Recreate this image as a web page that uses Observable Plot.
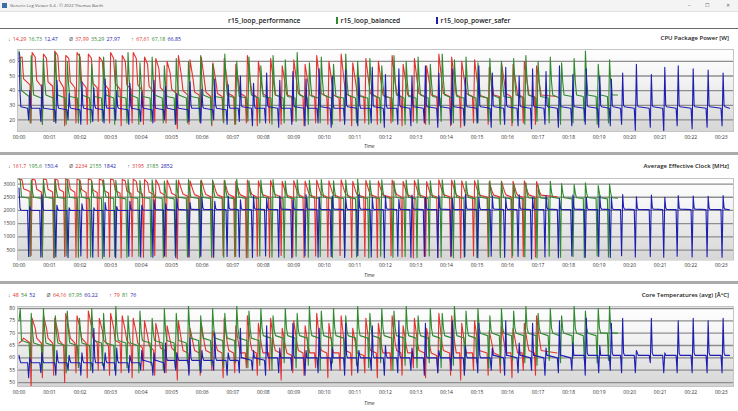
<!DOCTYPE html>
<html><head><meta charset="utf-8">
<script src="https://cdn.jsdelivr.net/npm/d3@7"></script>
<script src="https://cdn.jsdelivr.net/npm/@observablehq/plot@0.6"></script>
<style>
html,body{margin:0;padding:0;background:#fff}
body{width:738px;height:411px;overflow:hidden;position:relative;font-family:"Open Sans",sans-serif;color:#222}
.a{position:absolute;white-space:nowrap}
.st{font-size:5.3px;line-height:6px}
.st span{margin-right:2.2px}
.st .g{margin-left:9px}
.ttl{font-size:6px;font-weight:600;line-height:7px;right:9px}
.tm{font-size:5px;font-style:italic;line-height:6px;left:364px;color:#333}
.hr{position:absolute;left:0;width:738px}
</style></head><body>
<div id="root"></div>
<script>
// ---------- data (minutes, per-cycle values) ----------
const seriesNames = ["r15_loop_performance","r15_loop_balanced","r15_loop_power_safer"];
const colors = ["#e2322f","#2f8a2f","#1e1eb0"];
const xTicks = d3.range(0, 24);
const powerTicks = [20,30,40,50,60];
const clockTicks = [500,1000,1500,2000,2500,3000];
const tempTicks = [50,55,60,65,70,75,80];

// cycle start times (run start spikes), minutes
const perfT = [0.00,0.43,0.80,1.17,1.53,1.90,2.27,2.63,3.00,3.38,3.74,4.11,4.48,4.85,5.22,5.60,5.97,6.35,6.72,7.10,7.48,7.84,8.24,8.62,9.00,9.37,9.75,10.15,10.55,10.93,11.36,11.77,12.22,12.58,12.95,13.35,13.75,14.17,14.50,14.92,15.40,15.80,16.18,16.55,16.95];
const perfEnd = 17.62;
const balT = [0.00,0.40,0.80,1.19,1.58,1.98,2.38,2.77,3.17,3.57,3.96,4.36,4.76,5.15,5.55,5.95,6.34,6.74,7.13,7.53,7.92,8.32,8.72,9.11,9.51,9.90,10.30,10.70,11.09,11.49,11.88,12.28,12.68,13.07,13.47,13.86,14.26,14.64,15.03,15.42,15.80,16.20,16.60,17.00,17.40,17.77,18.18,18.55,18.97,19.34];
const balEnd = 19.60;
const safT = [0.00,0.35,0.75,1.24,1.64,2.06,2.45,2.82,3.20,3.63,4.02,4.42,4.80,5.17,5.60,5.99,6.41,6.85,7.25,7.68,8.11,8.54,8.97,9.40,9.83,10.26,10.70,11.13,11.57,12.00,12.44,12.87,13.31,13.75,14.19,14.62,15.06,15.50,15.94,16.38,16.82,17.26,17.70,18.14,18.58,19.02,19.40,19.77,20.22,20.71,21.15,21.59,22.08,22.57,23.06];
const safEnd = 23.27;

// per cycle: peak, hold, plateau start, plateau end, dip before next run
const perfPow = [
62,63,48,44,18, 66,63,47,43,17, 65,62,46,43,19, 67,64,47,42,16, 64,62,46,42,18,
66,63,46,42,17, 65,62,45,42,19, 63,60,45,41,18, 66,62,45,41,16, 64,60,44,41,18,
66,62,44,40,17, 63,58,43,39,19, 62,55,42,39,18, 60,52,41,38,14, 64,50,40,37,17,
61,48,39,37,18, 63,47,39,36,16, 59,46,38,36,19, 62,46,38,36,17, 58,45,38,36,18,
64,46,38,36,16, 60,45,38,35,18, 62,45,37,36,17, 57,44,37,36,19, 61,45,38,36,16,
58,44,37,36,18, 64,46,38,36,17, 60,45,37,35,19, 65,46,38,36,16, 59,45,37,36,18,
62,45,38,36,17, 60,44,37,35,18, 64,46,38,36,16, 58,44,37,36,19, 62,45,38,36,17,
57,44,37,36,18, 65,46,38,36,16, 63,45,37,36,15, 60,45,38,36,18, 61,44,37,35,17,
56,44,37,36,19, 59,45,38,36,16, 58,44,37,36,18, 60,45,37,36,17, 57,44,37,36,36];
const perfClk = [
3190,3160,2820,2720,300, 3180,3150,2800,2700,250, 3190,3160,2800,2700,220, 3180,3150,2790,2700,260, 3195,3150,2800,2690,230,
3180,3140,2790,2680,200, 3190,3150,2780,2680,250, 3180,3140,2760,2660,240, 3190,3150,2760,2650,210, 3170,3120,2740,2640,260,
3180,3100,2720,2620,230, 3170,3050,2700,2600,300, 3160,2950,2680,2580,250, 3150,2850,2650,2560,162, 3150,2800,2620,2540,240,
3120,2750,2600,2530,280, 3150,2750,2600,2520,220, 3100,2720,2590,2520,300, 3140,2740,2600,2520,250, 3110,2720,2590,2510,210,
3150,2750,2600,2520,270, 3120,2720,2590,2520,230, 3140,2740,2600,2520,300, 3100,2700,2580,2510,250, 3130,2730,2590,2520,220,
3110,2720,2580,2520,280, 3150,2750,2600,2520,240, 3120,2720,2590,2510,300, 3160,2760,2600,2520,230, 3100,2710,2580,2520,260,
3140,2740,2590,2520,220, 3110,2720,2580,2510,290, 3150,2750,2600,2520,240, 3100,2700,2580,2520,210, 3140,2740,2590,2520,270,
3090,2700,2580,2510,230, 3160,2760,2600,2520,250, 3150,2740,2590,2520,200, 3120,2720,2590,2520,280, 3130,2730,2580,2510,240,
3080,2700,2580,2520,300, 3110,2720,2590,2520,220, 3100,2700,2580,2510,260, 3120,2720,2590,2520,240, 3090,2700,2580,2520,2520];
const perfTmp = [
66,67,68,66,48, 76,72,68,66,52, 77,72,68,66,53, 76,71,67,65,50, 78,72,68,66,54,
77,72,68,66,52, 79,73,68,66,55, 76,71,67,65,53, 78,72,67,66,54, 77,71,67,65,52,
76,70,66,64,55, 75,69,65,63,53, 74,68,64,63,54, 73,67,64,62,51, 75,67,63,62,54,
72,66,63,62,53, 74,66,63,62,55, 71,65,63,62,52, 76,66,63,62,54, 73,65,62,62,56,
77,66,63,62,53, 74,65,62,62,55, 76,66,63,62,51, 72,65,62,61,54, 75,66,63,62,53,
73,65,62,62,56, 78,66,63,62,52, 74,65,62,62,55, 77,66,63,62,53, 72,65,62,61,54,
76,66,63,62,52, 74,65,62,62,55, 77,66,63,62,53, 73,65,62,62,56, 76,66,63,62,52,
72,65,62,61,54, 78,66,63,62,53, 77,66,62,62,51, 74,65,62,62,55, 75,66,63,62,53,
71,65,62,61,54, 73,65,62,62,52, 72,65,62,62,55, 74,66,63,62,53, 77,67,63,62,62];

const balPow = [
67,62,40,36,18, 64,48,37,35,17, 62,46,37,35,19, 66,47,37,35,17, 60,45,36,35,18,
65,46,37,35,18, 58,45,36,35,19, 63,46,37,35,17, 61,45,36,35,18, 66,47,37,35,17,
59,45,36,35,19, 63,46,37,35,18, 57,44,36,35,17, 62,46,37,35,18, 60,45,36,35,19,
64,46,37,35,17, 58,45,36,35,18, 65,47,37,35,17, 60,45,36,35,19, 63,46,37,35,18,
57,44,36,35,17, 64,46,37,35,18, 61,45,36,35,19, 66,47,37,35,17, 59,45,36,35,18,
63,46,37,35,17, 58,45,36,35,19, 65,47,37,35,18, 60,45,36,35,17, 62,46,37,35,18,
57,44,36,35,19, 64,46,37,35,17, 60,45,36,35,18, 63,46,37,35,17, 58,45,36,35,19,
65,47,37,35,18, 61,45,36,35,17, 63,46,37,35,18, 59,45,36,35,19, 62,46,37,35,17,
60,45,36,35,18, 62,46,37,35,17, 64,46,37,35,19, 60,45,36,35,18, 63,46,37,35,17,
59,45,37,36,18, 62,46,37,36,19, 67,47,37,36,17, 58,45,37,36,18, 61,45,37,37,37];
const balClk = [
3185,3150,2520,2460,260, 3150,2700,2500,2450,240, 3160,2720,2500,2450,210, 3140,2700,2490,2450,280, 3170,2730,2500,2450,230,
3150,2700,2500,2440,250, 3120,2690,2490,2450,196, 3160,2720,2500,2450,260, 3140,2700,2490,2440,230, 3170,2730,2500,2450,270,
3130,2700,2490,2450,250, 3160,2720,2500,2450,220, 3110,2690,2490,2440,290, 3150,2710,2500,2450,240, 3170,2730,2500,2450,210,
3120,2700,2490,2450,270, 3160,2720,2500,2450,230, 3140,2700,2490,2440,260, 3180,2730,2500,2450,220, 3120,2690,2490,2450,280,
3150,2710,2500,2450,240, 3170,2720,2500,2450,210, 3110,2690,2490,2440,270, 3160,2720,2500,2450,230, 3140,2700,2490,2450,260,
3170,2730,2500,2450,220, 3120,2700,2490,2450,290, 3150,2710,2500,2440,240, 3180,2730,2500,2450,210, 3130,2700,2490,2450,270,
3160,2720,2500,2450,230, 3110,2690,2490,2450,260, 3150,2710,2500,2440,220, 3170,2730,2500,2450,280, 3120,2700,2490,2450,240,
3160,2720,2500,2450,210, 3140,2700,2490,2450,270, 3100,2690,2490,2440,230, 3150,2710,2500,2450,260, 3120,2700,2490,2450,220,
3080,2680,2480,2440,290, 3000,2650,2480,2440,240, 3050,2670,2480,2450,210, 2950,2640,2470,2440,270, 3100,2690,2490,2450,230,
3020,2660,2480,2440,260, 2980,2650,2480,2450,220, 3050,2670,2490,2450,280, 2940,2640,2480,2440,240, 3000,2650,2480,2460,2460];
const balTmp = [
75,80,67,66,56, 78,71,66,65,55, 80,71,66,65,57, 77,70,66,65,54, 79,71,66,65,56,
76,70,66,65,55, 80,71,67,66,57, 78,70,66,65,55, 81,71,67,66,56, 77,70,66,65,54,
79,71,67,66,57, 76,70,67,66,55, 80,71,67,66,56, 78,71,67,66,58, 81,72,68,67,55,
77,71,68,67,57, 80,72,68,67,56, 78,71,68,67,58, 81,72,68,67,56, 79,72,68,67,57,
80,72,69,68,55, 77,71,69,68,58, 80,72,69,68,56, 78,71,69,68,57, 81,72,69,68,55,
79,72,69,68,58, 80,72,69,68,56, 77,71,69,68,57, 81,72,69,68,56, 78,72,69,68,58,
80,72,69,68,55, 79,72,69,68,57, 81,72,69,68,56, 77,71,69,68,58, 80,72,69,68,56,
78,72,69,68,57, 81,72,69,68,55, 79,72,69,68,58, 80,72,70,69,56, 77,71,70,69,57,
80,72,70,69,59, 79,72,70,69,58, 81,72,70,69,57, 78,72,70,69,59, 80,72,70,69,58,
77,71,70,69,60, 81,72,70,69,59, 79,72,70,69,58, 80,72,70,70,59, 81,72,70,70,70];

const safPow = [
66,40,29,28,20, 40,30,28,28,19, 44,30,28,27,18, 47,30,28,27,20, 38,29,28,27,17,
46,30,28,27,19, 42,30,28,27,18, 48,30,28,28,20, 40,29,28,27,17, 45,30,28,27,19,
39,29,28,27,18, 47,30,28,27,20, 43,30,28,27,17, 38,29,28,27,19, 46,30,28,28,18,
41,29,28,27,20, 48,30,28,27,17, 44,30,28,28,19, 50,30,29,28,16, 45,30,28,28,18,
52,30,29,28,15, 47,30,28,28,17, 53,30,29,28,16, 48,30,28,28,18, 55,30,29,28,15,
50,30,28,28,17, 54,30,29,28,16, 49,30,28,28,18, 56,30,29,28,15, 51,30,28,28,17,
55,30,29,28,16, 50,30,29,28,18, 57,30,29,28,15, 52,30,29,28,17, 55,30,29,28,16,
49,30,29,28,18, 57,30,29,28,15, 52,30,29,28,17, 56,30,29,28,16, 50,30,29,28,14,
55,30,29,28,17, 53,30,29,28,15, 57,30,29,28,16, 51,30,29,28,17, 55,30,29,28,15,
50,30,29,28,16, 48,30,29,28,17, 52,30,29,28,13, 58,30,29,28,15, 51,30,29,28,12,
56,30,29,28,16, 57,30,29,28,14, 55,30,29,28,15, 54,30,29,28,16, 52,30,29,28,28];
const safClk = [
2852,2100,2010,2000,260, 2150,2030,2000,2000,240, 2600,2100,2010,2000,250, 2200,2040,2000,2000,220, 2100,2020,2000,2000,280,
2250,2040,2010,2000,230, 2100,2020,2000,2000,260, 2300,2050,2010,2000,210, 2150,2030,2000,2000,270, 2350,2060,2020,2010,240,
2200,2040,2020,2010,230, 2400,2080,2030,2020,280, 2250,2050,2030,2020,220, 2450,2100,2040,2020,250, 2300,2060,2040,2030,270,
2500,2100,2040,2030,230, 2350,2080,2040,2030,260, 2550,2100,2050,2030,240, 2400,2080,2040,2030,220, 2550,2100,2050,2030,280,
2450,2100,2040,2030,240, 2550,2120,2050,2030,210, 2400,2090,2040,2030,280, 2600,2120,2050,2030,230, 2500,2100,2040,2030,260,
2550,2110,2050,2030,220, 2450,2100,2040,2030,290, 2600,2120,2050,2030,240, 2500,2100,2040,2030,210, 2550,2110,2050,2030,270,
2420,2090,2040,2030,230, 2580,2120,2050,2030,260, 2500,2100,2040,2030,220, 2560,2110,2050,2030,280, 2450,2100,2040,2030,240,
2600,2120,2050,2030,210, 2500,2100,2040,2030,270, 2550,2110,2050,2030,230, 2470,2100,2040,2030,260, 2590,2120,2050,2030,150,
2500,2100,2040,2030,240, 2560,2110,2050,2030,210, 2450,2100,2040,2030,280, 2580,2120,2050,2030,230, 2500,2100,2040,2030,260,
2550,2110,2050,2030,220, 2480,2100,2040,2030,290, 2600,2120,2050,2030,240, 2520,2100,2040,2030,260, 2580,2120,2050,2030,230,
2500,2100,2040,2030,270, 2560,2110,2050,2030,240, 2550,2110,2050,2030,250, 2540,2100,2040,2030,230, 2560,2110,2050,2030,2030];
const safTmp = [
61,59,58,58,52, 60,59,58,58,54, 62,59,58,58,53, 63,59,58,58,55, 61,59,58,58,53,
62,59,58,58,54, 72,60,58,58,55, 62,59,58,58,53, 64,59,58,58,54, 61,59,58,58,55,
63,59,59,58,53, 62,59,59,58,54, 66,60,59,59,55, 62,60,59,59,53, 68,60,59,59,54,
63,60,59,59,55, 70,60,59,59,53, 62,60,59,59,54, 72,60,60,59,55, 63,60,60,59,53,
73,61,60,60,54, 64,60,60,60,55, 74,61,60,60,53, 63,60,60,60,54, 72,61,60,60,55,
64,60,60,60,53, 74,61,60,60,54, 63,61,60,60,55, 73,61,60,60,53, 65,61,60,60,54,
75,61,60,60,55, 64,61,60,60,53, 74,61,60,60,54, 63,61,60,60,55, 75,61,60,60,53,
65,61,60,60,54, 74,61,60,60,55, 64,61,61,60,53, 75,61,61,60,54, 66,61,61,60,55,
74,61,61,60,53, 64,61,61,60,54, 75,61,61,60,55, 66,61,61,61,53, 76,62,61,61,54,
65,61,61,61,55, 74,62,61,61,54, 76,62,61,61,54, 63,62,61,61,58, 76,62,61,61,54,
62,61,61,61,54, 75,62,61,61,54, 76,62,61,61,54, 75,62,61,61,54, 76,62,61,61,61];

const statsPower = [["14,29","16,73","12,47"],["37,99","35,29","27,97"],["67,61","67,18","66,85"]];
const statsClock = [["161,7","195,6","150,4"],["2234","2155","1842"],["3195","3185","2852"]];
const statsTemp  = [["48","54","52"],["64,16","67,95","60,22"],["79","81","76"]];

// ---------- table building ----------
function build(T, vals, end, h, p) {
  const out = [];
  T.forEach((s, k) => {
    const r = vals.slice(k * 5, k * 5 + 5);
    out.push({t: s, v: r[0]}, {t: s + h, v: r[1]}, {t: s + p, v: r[2]});
    if (k + 1 < T.length) out.push({t: T[k + 1] - 0.07, v: r[3]}, {t: T[k + 1] - 0.035, v: r[4]});
    else out.push({t: end, v: r[3]});
  });
  return out;
}
const shape = [[0.10, 0.15], [0.04, 0.08], [0.03, 0.06]];
const times = [[perfT, perfEnd], [balT, balEnd], [safT, safEnd]];
function series(valsList) {
  return valsList.map((vals, i) => build(times[i][0], vals, times[i][1], shape[i][0], shape[i][1]));
}

const root = document.getElementById("root");
function div(cls, style, html) {
  const d = document.createElement("div");
  d.className = cls; d.style.cssText = style; d.innerHTML = html;
  root.appendChild(d); return d;
}

// title bar
div("a", "left:0;top:0;width:738px;height:11px;background:#f4f4f4;border-bottom:1px solid #e2e2e2", "");
div("a", "left:2px;top:2.5px;width:5px;height:5px;background:#3a6ea5", "");
div("a", "left:10px;top:2px;font-size:4.3px;line-height:6px;color:#555", "Generic Log Viewer 6.4 - © 2022 Thomas Barth");
div("a", "left:688px;top:1.5px;font-size:5px;line-height:7px;color:#666", "&#8211;");
div("a", "left:705px;top:1.5px;font-size:5px;line-height:7px;color:#666", "&#9744;");
div("a", "left:726px;top:1.5px;font-size:5px;line-height:7px;color:#666", "&#10005;");

// legend
const legX = [228, 336, 436];
seriesNames.forEach((n, i) => {
  if (i > 0) div("a", `left:${legX[i]}px;top:17px;width:2px;height:7px;background:${colors[i]}`, "");
  div("a", `left:${legX[i] + (i > 0 ? 4.5 : 0)}px;top:16.5px;font-size:6.7px;font-weight:600;line-height:8px;color:#222`, n);
});
div("hr", "top:28px;height:1px;background:#6a6a6a", "");
div("hr", "top:152px;height:3px;background:#ababab", "");
div("hr", "top:281px;height:3px;background:#ababab", "");

function stats(top, st) {
  const syms = ["&#8595;", "&Oslash;", "&#8593;"];
  let h = "";
  st.forEach((grp, g) => {
    h += `<span class="${g ? "g" : ""}" style="color:#555">${syms[g]}</span>`;
    grp.forEach((v, i) => { h += `<span style="color:${colors[i]}">${v}</span>`; });
  });
  div("a st", `left:8px;top:${top}px`, h);
}
stats(36, statsPower); stats(163, statsClock); stats(292, statsTemp);
div("a ttl", "top:35px", "CPU Package Power [W]");
div("a ttl", "top:162.5px", "Average Effective Clock [MHz]");
div("a ttl", "top:291.5px", "Core Temperatures (avg) [Â°C]");
div("a tm", "top:143px", "Time");
div("a tm", "top:272px", "Time");
div("a tm", "top:400px", "Time");

function bgMark(id) {
  return (index, scales, values, dims) => {
    const ns = "http://www.w3.org/2000/svg";
    const g = document.createElementNS(ns, "g");
    const w = dims.width - dims.marginLeft - dims.marginRight;
    const hh = dims.height - dims.marginTop - dims.marginBottom;
    g.innerHTML = `<defs><linearGradient id="${id}" x1="0" y1="0" x2="0" y2="1"><stop offset="0" stop-color="#ffffff"/><stop offset="0.35" stop-color="#f4f4f4"/><stop offset="1" stop-color="#d6d6d6"/></linearGradient></defs><rect x="${dims.marginLeft}" y="${dims.marginTop}" width="${w}" height="${hh}" fill="url(#${id})"/>`;
    return g;
  };
}

function panel(id, top, height, mt, mb, ydom, yticks, data) {
  const chart = Plot.plot({
    width: 738, height,
    marginLeft: 17, marginRight: 5, marginTop: mt, marginBottom: mb,
    style: {fontFamily: "Open Sans, sans-serif", fontSize: "5px", color: "#333", background: "transparent", overflow: "visible"},
    x: {domain: [-0.05, 23.4], ticks: xTicks, tickFormat: m => "00:" + String(m).padStart(2, "0"), tickSize: 0, tickPadding: 3.5, label: null},
    y: {domain: ydom, ticks: yticks, tickFormat: d => String(d), tickSize: 0, tickPadding: 2.5, label: null},
    marks: [
      bgMark(id),
      Plot.ruleY(yticks, {stroke: "#8e8e8e", strokeWidth: 1.3}),
      Plot.frame({stroke: "#c4c4c4"}),
      ...data.map((d, i) => Plot.line(d, {x: "t", y: "v", stroke: colors[i], strokeWidth: 1.1, clip: true}))
    ]
  });
  chart.style.position = "absolute"; chart.style.left = "0px"; chart.style.top = top + "px";
  root.appendChild(chart);
}

panel("g1", 45, 107, 4, 21, [12.1, 68.1], powerTicks, series([perfPow, balPow, safPow]));
panel("g2", 175, 100, 3, 15.5, [125, 3210], clockTicks, series([perfClk, balClk, safClk]));
panel("g3", 303, 100, 3, 17, [48.4, 80.8], tempTicks, series([perfTmp, balTmp, safTmp]));
</script>
</body></html>
